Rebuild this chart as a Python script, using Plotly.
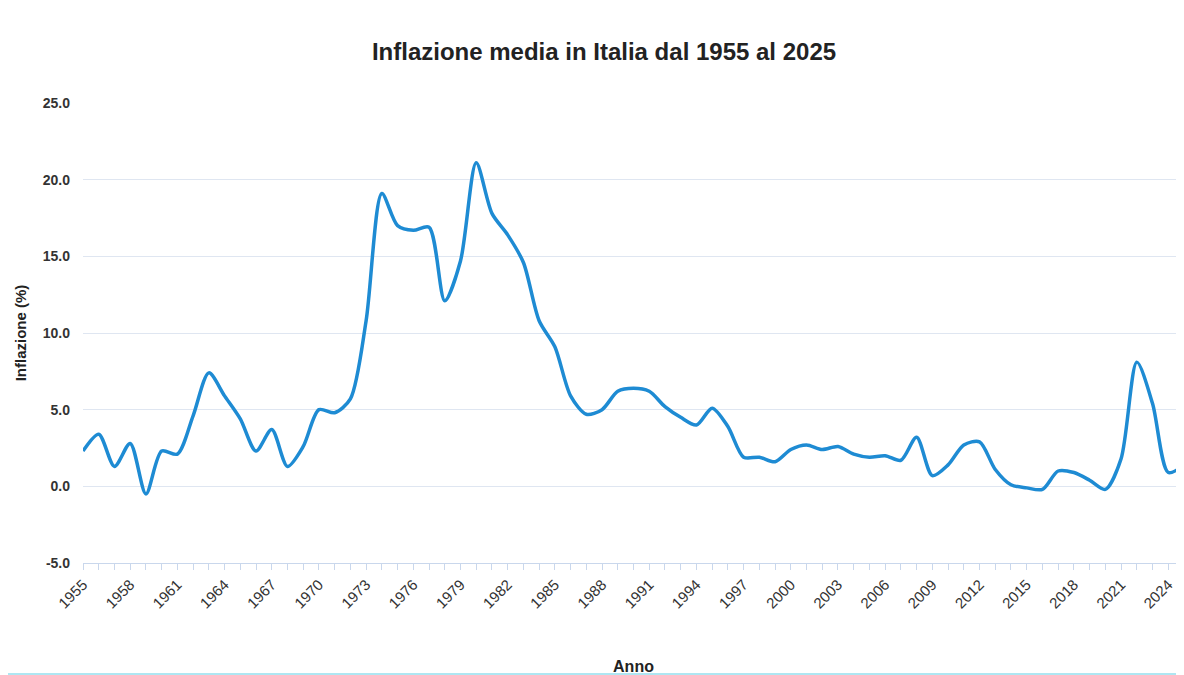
import plotly.graph_objects as go

anni = list(range(1955, 2026))
inflazione = [
    2.3, 3.4, 1.3, 2.8, -0.5, 2.3, 2.1, 4.6, 7.4, 5.9,
    4.4, 2.3, 3.7, 1.3, 2.6, 5.0, 4.8, 5.7, 10.8, 19.1,
    17.0, 16.7, 16.9, 12.1, 14.7, 21.1, 17.8, 16.4, 14.6, 10.8,
    9.1, 5.9, 4.7, 5.0, 6.2, 6.4, 6.2, 5.2, 4.5, 4.0,
    5.1, 3.9, 1.9, 1.9, 1.6, 2.4, 2.7, 2.4, 2.6, 2.1,
    1.9, 2.0, 1.7, 3.2, 0.7, 1.4, 2.7, 2.9, 1.1, 0.1,
    -0.1, -0.2, 1.0, 0.9, 0.4, -0.2, 1.8, 8.1, 5.4, 0.9,
    1.4,
]
tick_anni = list(range(1955, 2025, 3))
y_ticks = [-5, 0, 5, 10, 15, 20, 25]

FONT = "Liberation Sans, Arial, sans-serif"
GRID = "#dfe6f1"
AXIS = "#c9d7ec"

W, H = 1176, 667
L, R, T, B = 75, 0, 95, 112
plot_w, plot_h = W - L - R, H - T - B

fig = go.Figure()
fig.add_trace(go.Scatter(
    x=anni, y=inflazione, mode="lines",
    line=dict(color="#1e8bd3", width=3.5, shape="spline", smoothing=0.8),
    name="Inflazione",
))

fig.update_layout(
    width=W, height=H,
    paper_bgcolor="white", plot_bgcolor="white",
    margin=dict(l=L, r=R, t=T, b=B, autoexpand=False),
    showlegend=False,
    font=dict(family=FONT, color="#333333"),
    title=dict(
        text="Inflazione media in Italia dal 1955 al 2025",
        x=596 / W, xanchor="center", y=1 - 44 / H, yanchor="middle",
        font=dict(size=24, family=FONT, color="#222222", weight="bold"),
    ),
    xaxis=dict(
        range=[1955, 2025],
        tickmode="array", tickvals=tick_anni,
        ticktext=[str(a) for a in tick_anni],
        tickangle=-45,
        tickfont=dict(size=15, color="#333333"),
        ticks="outside", ticklen=6, tickcolor=AXIS,
        minor=dict(dtick=1, tick0=1955, ticks="outside", ticklen=6, tickcolor=AXIS, showgrid=False),
        showline=True, linecolor=AXIS, linewidth=1,
        showgrid=False, zeroline=False,
        title=dict(text="Anno", standoff=50, font=dict(size=16, color="#222222", weight="bold")),
        automargin=False,
    ),
    yaxis=dict(
        range=[-5, 25],
        tickmode="array", tickvals=y_ticks,
        ticktext=[f"{v:.1f}" for v in y_ticks],
        tickfont=dict(size=14, color="#333333", weight="bold"),
        showgrid=True, gridcolor=GRID, gridwidth=1,
        zeroline=False, showline=False,
        ticks="", ticklabelstandoff=12,
        title=dict(text="Inflazione (%)", standoff=12, font=dict(size=15, color="#222222", weight="bold")),
        automargin=False,
    ),
    shapes=[dict(
        type="line", xref="paper", yref="paper",
        x0=-L / plot_w, x1=1, y0=-(666 - (H - B)) / plot_h, y1=-(666 - (H - B)) / plot_h,
        line=dict(color="#aee6f2", width=2),
    )],
)

fig.write_html("out.html")
